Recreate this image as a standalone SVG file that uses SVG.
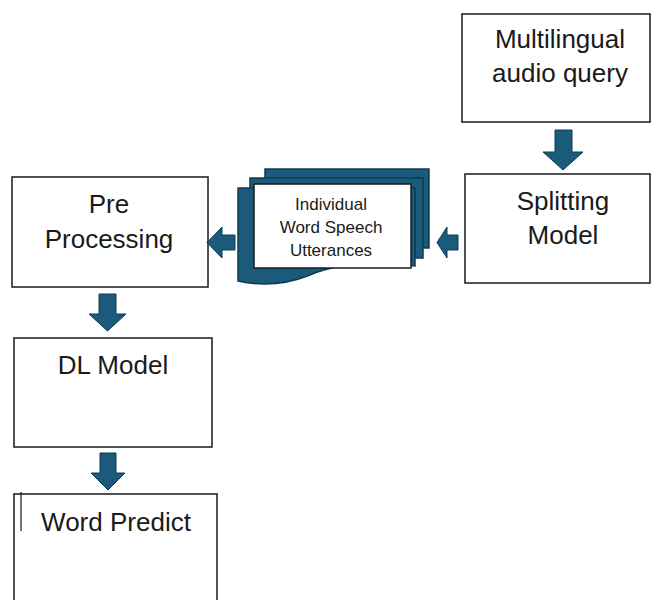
<svg xmlns="http://www.w3.org/2000/svg" width="651" height="600" viewBox="0 0 651 600">
<defs>
<style>
.box{fill:#fff;stroke:#1a1a1a;stroke-width:1.5}
.t{font-family:"Liberation Sans",Arial,sans-serif;font-size:26px;fill:#1a1a1a;text-anchor:middle}
.s{font-family:"Liberation Sans",Arial,sans-serif;font-size:17px;fill:#1a1a1a;text-anchor:middle}
.arr{fill:#1b5a7b;stroke:#0f3b52;stroke-width:1}
.doc{fill:#1b5a7b;stroke:#0f3b52;stroke-width:1.5}
</style>
</defs>
<rect width="651" height="600" fill="#fff"/>
<g id="multilingual">
<rect class="box" x="462" y="14" width="188" height="108"/>
<text class="t" x="560" y="48">Multilingual</text>
<text class="t" x="560" y="82">audio query</text>
</g>
<g id="splitting">
<rect class="box" x="465" y="174" width="185" height="109"/>
<text class="t" x="563" y="210">Splitting</text>
<text class="t" x="563" y="244">Model</text>
</g>
<g id="utterances">
<rect class="doc" x="265" y="169" width="164" height="79"/>
<rect class="doc" x="250" y="178" width="173" height="80"/>
<path class="doc" d="M238,188 H415 V266 C380,262 340,262 310,275 C285,285 260,286 238,281 Z"/>
<rect class="box" x="254" y="184" width="157" height="84"/>
<text class="s" x="331" y="210">Individual</text>
<text class="s" x="331" y="233">Word Speech</text>
<text class="s" x="331" y="256">Utterances</text>
</g>
<g id="preprocessing">
<rect class="box" x="12" y="177" width="196" height="110"/>
<text class="t" x="109" y="213">Pre</text>
<text class="t" x="109" y="248">Processing</text>
</g>
<g id="dlmodel">
<rect class="box" x="14" y="338" width="198" height="109"/>
<text class="t" x="113" y="374">DL Model</text>
</g>
<g id="wordpredict">
<rect class="box" x="14" y="494" width="203" height="120"/>
<line x1="21" y1="492" x2="21" y2="531" stroke="#1a1a1a" stroke-width="1.2"/>
<text class="t" x="116" y="531">Word Predict</text>
</g>
<g id="connectors">
<path class="arr" d="M555,130 H572 V152 H583 L563,170 L543,152 H555 Z"/>
<path class="arr" d="M458,235 V250 H447 V258 L437,242.5 L447,227 V235 Z"/>
<path class="arr" d="M235,235 V250 H222 V258 L207,242.5 L222,227 V235 Z"/>
<path class="arr" d="M99,294 H116 V314 H126 L107.5,331 L89,314 H99 Z"/>
<path class="arr" d="M100,453 H116 V473 H125 L108,490 L91,473 H100 Z"/>
</g>
</svg>
